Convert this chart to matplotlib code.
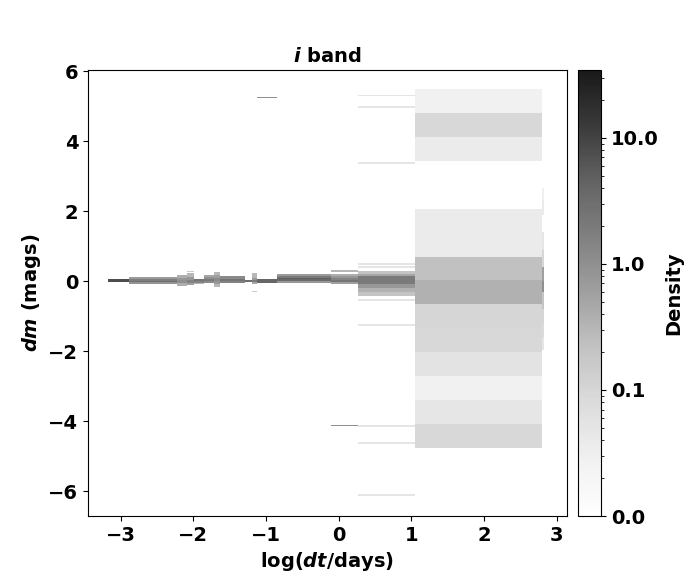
import numpy as np
import matplotlib
matplotlib.use('Agg')
import matplotlib.pyplot as plt
from matplotlib.colors import LogNorm
from matplotlib.ticker import FormatStrFormatter

plt.rcParams['font.size'] = 14
plt.rcParams['font.weight'] = 'bold'
plt.rcParams['axes.labelweight'] = 'bold'
plt.rcParams['axes.titleweight'] = 'bold'
plt.rcParams['mathtext.fontset'] = 'custom'
plt.rcParams['mathtext.it'] = 'DejaVu Sans:italic:bold'
plt.rcParams['mathtext.rm'] = 'DejaVu Sans:bold'

nan = np.nan

# log(dt) edges of each column of the histogram
col_x = [
    [-3.18, -2.89], [-2.89, -2.23], [-2.23, -2.09], [-2.09, -1.99],
    [-1.99, -1.85], [-1.85, -1.72], [-1.72, -1.63], [-1.63, -1.29],
    [-1.29, -1.20], [-1.20, -1.12], [-1.12, -0.85], [-0.85, -0.11],
    [-0.11, 0.27], [0.27, 1.05], [1.05, 2.79], [2.79, 2.82],
]

# dm bin edges in each column
col_dm = [
    [-0.03, 0.05],
    [-0.09, -0.03, 0.01, 0.06, 0.12],
    [-0.14, -0.06, 0.02, 0.09, 0.17],
    [-0.12, -0.04, 0.04, 0.12, 0.22, 0.26, 0.30],
    [-0.08, -0.05, 0.0, 0.05],
    [-0.06, 0.0, 0.06, 0.12, 0.17],
    [-0.17, -0.08, 0.0, 0.08, 0.17, 0.26],
    [-0.06, 0.0, 0.06, 0.14],
    [-0.03, 0.03],
    [-0.31, -0.27, -0.09, -0.03, 0.03, 0.10, 0.24],
    [-0.05, 0.0, 0.05, 5.22, 5.26],
    [-0.05, 0.0, 0.05, 0.10, 0.15, 0.20],
    [-4.15, -4.12, -0.07, -0.02, 0.03, 0.08, 0.14, 0.20, 0.27, 0.31],
    [-6.14, -6.08, -4.66, -4.60, -4.16, -4.10, -1.29, -1.23, -0.57, -0.51,
     -0.43, -0.30, -0.20, -0.09, 0.14, 0.20, 0.29, 0.38, 0.42, 0.47, 0.51,
     3.34, 3.40, 4.95, 5.01, 5.28, 5.33],
    [-4.77, -4.09, -3.40, -2.72, -2.03, -1.35, -0.66, 0.02, 0.70, 1.39,
     2.07, 2.76, 3.44, 4.13, 4.81, 5.50],
    [-1.97, -1.60, -1.20, -0.80, -0.31, 0.0, 0.40, 0.90, 1.40, 1.90, 2.30, 2.66],
]

# density in each dm bin (nan = empty)
col_density = [
    [8.0],
    [0.9, 3.0, 1.8, 0.7],
    [0.4, 1.0, 0.8, 0.4],
    [0.6, 1.5, 0.8, 0.3, nan, 0.15],
    [0.3, 1.5, 2.5],
    [1.2, 2.0, 1.0, 0.5],
    [0.3, 0.8, 1.2, 0.6, 0.3],
    [1.5, 2.5, 1.2],
    [3.0],
    [0.15, nan, 0.5, 2.0, 0.8, 0.3],
    [4.0, 4.0, nan, 1.0],
    [0.8, 3.5, 5.0, 2.0, 0.7],
    [1.0, nan, 0.6, 2.5, 1.5, 0.8, 0.4, nan, 0.3],
    [0.05, nan, 0.05, nan, 0.05, nan, 0.05, nan, 0.05, nan,
     0.2, 0.35, 0.8, 2.0, 0.5, 0.2, nan, 0.05, nan, 0.05,
     nan, 0.05, nan, 0.05, nan, 0.05],
    [0.09, 0.049, 0.027, 0.057, 0.09, 0.10, 0.36, 0.22, 0.038, 0.038,
     nan, nan, 0.038, 0.09, 0.027],
    [0.05, 0.08, 0.1, 0.2, 1.0, 0.6, 0.1, 0.05, nan, 0.04, 0.03],
]

norm = LogNorm(vmin=0.01, vmax=34.6)

fig = plt.figure(figsize=(7, 5.8), dpi=100)
ax = fig.add_axes([0.1257, 0.1103, 0.6843, 0.7690])
cax = fig.add_axes([0.8257, 0.1103, 0.0329, 0.7690])

for xe, ye, d in zip(col_x, col_dm, col_density):
    c = np.ma.masked_invalid(np.array(d, dtype=float).reshape(-1, 1))
    mesh = ax.pcolormesh(xe, ye, c, cmap='Greys', norm=norm, alpha=0.9)

ax.set_xlim(-3.45, 3.14)
ax.set_ylim(-6.71, 6.03)
ax.set_xticks([-3, -2, -1, 0, 1, 2, 3])
ax.set_yticks([-6, -4, -2, 0, 2, 4, 6])
ax.set_xlabel(r'log($dt$/days)')
ax.set_ylabel(r'$dm$ (mags)')
ax.set_title(r'$i$ band', fontsize=14, pad=5.5)

cb = fig.colorbar(mesh, cax=cax, format=FormatStrFormatter('%.1f'))
cb.set_label('Density', labelpad=4)

fig.savefig('out.png', dpi=100)
